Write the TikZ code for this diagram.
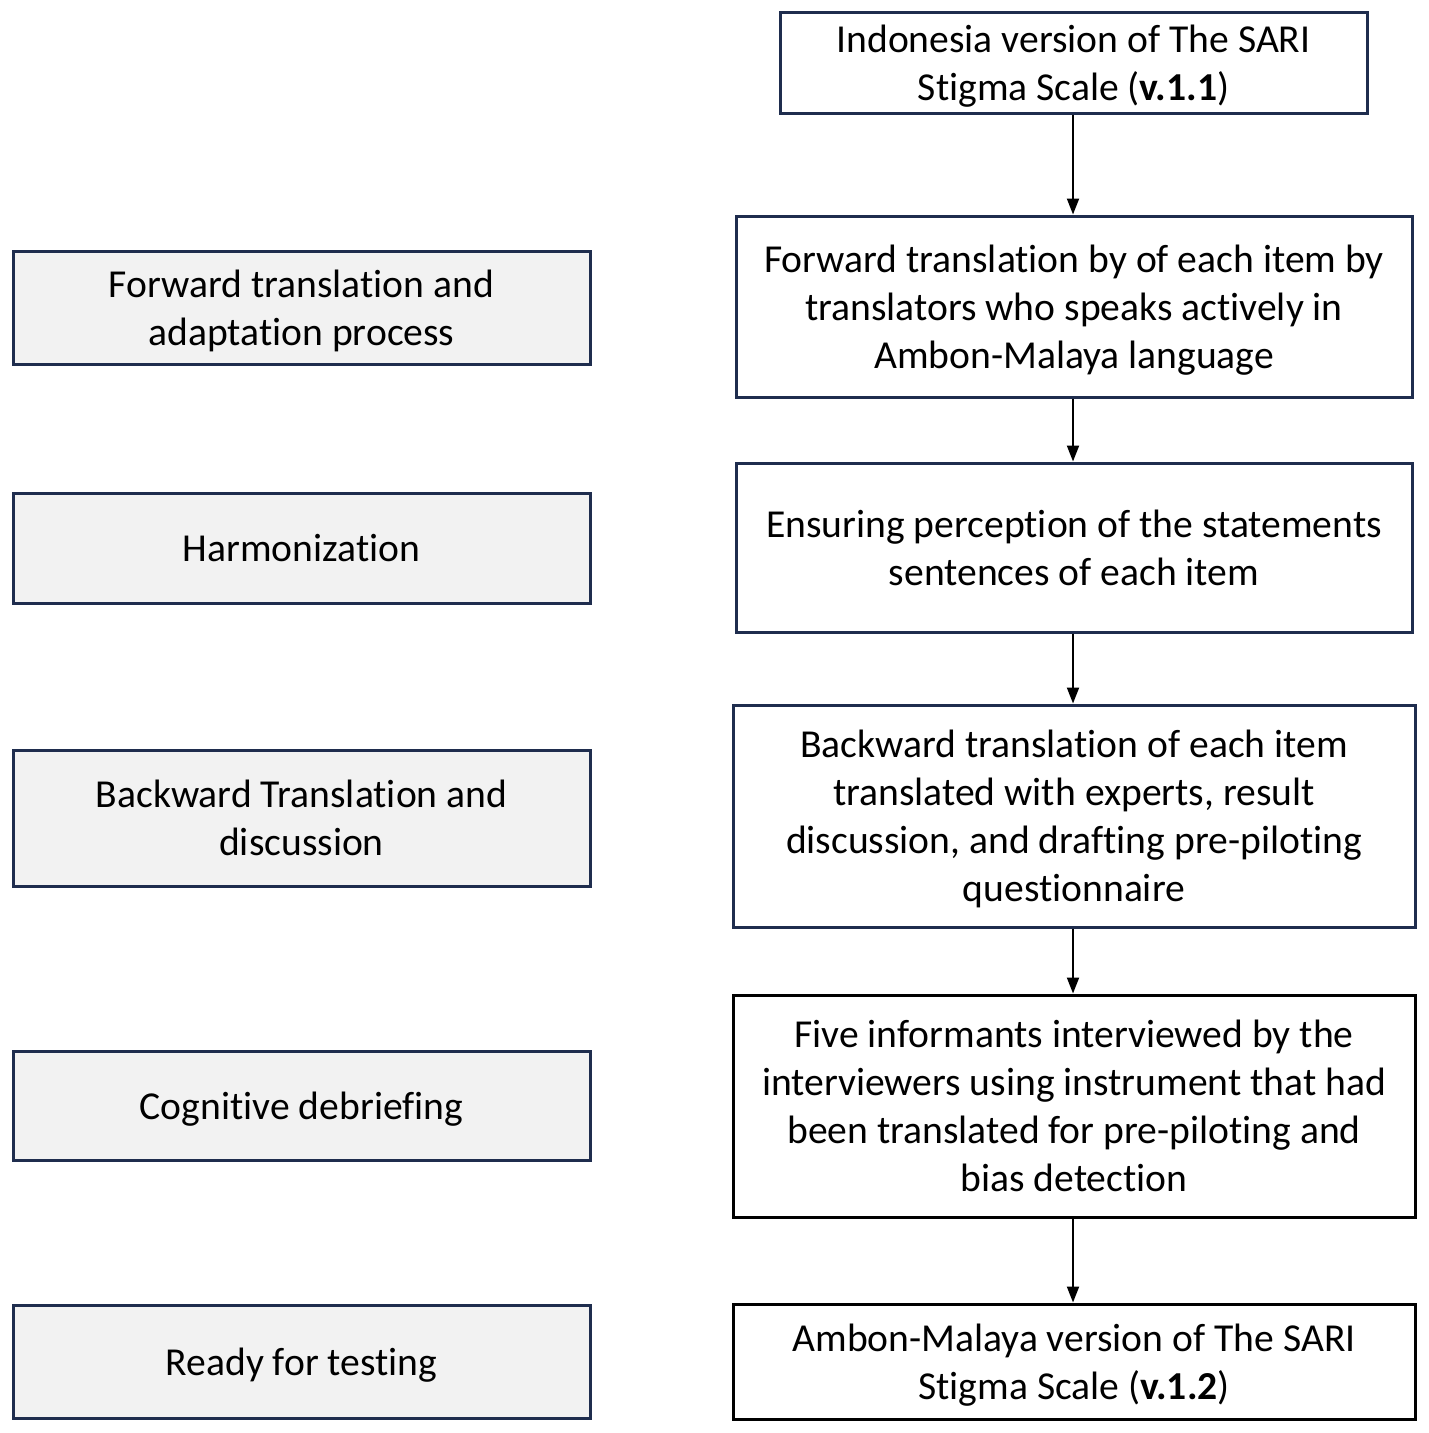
\documentclass[tikz,border=0pt]{standalone}
\usepackage{fontspec}
\setmainfont{Carlito}[Ligatures=NoCommon]
\usetikzlibrary{arrows.meta}
\definecolor{navy}{HTML}{1F2D4E}
\definecolor{lgray}{HTML}{F2F2F2}
\newcommand\boxtxt[1]{\raisebox{-4pt}[\height][\depth]{\begin{tabular}{@{}c@{}}#1\end{tabular}}}
\begin{document}
\begin{tikzpicture}[x=1pt,y=-1pt,
  base/.style={draw, line width=3pt, inner sep=0pt, align=center,
    font=\fontsize{39.6}{48}\selectfont},
  rbox/.style={base, draw=navy, fill=white},
  kbox/.style={base, draw=black, fill=white},
  lbox/.style={base, draw=navy, fill=lgray},
  arr/.style={line width=2pt, -{Triangle[length=16pt,width=12pt]}}]
\useasboundingbox (0,0) rectangle (1429,1433);
% right column
\node[rbox, minimum width=587pt, minimum height=101pt] (r1) at (1073.5,62.5)
  {\boxtxt{Indonesia version of The SARI\\Stigma Scale (\textbf{v.1.1})}};
\node[rbox, minimum width=676pt, minimum height=181pt] (r2) at (1074,306.5)
  {\boxtxt{Forward translation by of each item by\\translators who speaks actively in\\Ambon-Malaya language}};
\node[rbox, minimum width=676pt, minimum height=169pt] (r3) at (1074,547.5)
  {\boxtxt{Ensuring perception of the statements\\sentences of each item}};
\node[rbox, minimum width=682pt, minimum height=222pt] (r4) at (1074,816)
  {\boxtxt{Backward translation of each item\\translated with experts, result\\discussion, and drafting pre-piloting\\questionnaire}};
\node[kbox, minimum width=682pt, minimum height=222pt] (r5) at (1074,1106)
  {\boxtxt{Five informants interviewed by the\\interviewers using instrument that had\\been translated for pre-piloting and\\bias detection}};
\node[kbox, minimum width=682pt, minimum height=115pt] (r6) at (1074,1361.5)
  {\boxtxt{Ambon-Malaya version of The SARI\\Stigma Scale (\textbf{v.1.2})}};
% left column
\node[lbox, minimum width=577pt, minimum height=113pt] (l1) at (301.5,307.5)
  {\boxtxt{Forward translation and\\adaptation process}};
\node[lbox, minimum width=577pt, minimum height=110pt] (l2) at (301.5,548)
  {\boxtxt{Harmonization}};
\node[lbox, minimum width=577pt, minimum height=136pt] (l3) at (301.5,818)
  {\boxtxt{Backward Translation and\\discussion}};
\node[lbox, minimum width=577pt, minimum height=109pt] (l4) at (301.5,1105.5)
  {\boxtxt{Cognitive debriefing}};
\node[lbox, minimum width=577pt, minimum height=113pt] (l5) at (301.5,1361.5)
  {\boxtxt{Ready for testing}};
% arrows
\foreach \a/\b in {r1/r2,r2/r3,r3/r4,r4/r5,r5/r6}
  \draw[arr] (\a.south -| 1073,0) -- (\b.north -| 1073,0);
\end{tikzpicture}
\end{document}
